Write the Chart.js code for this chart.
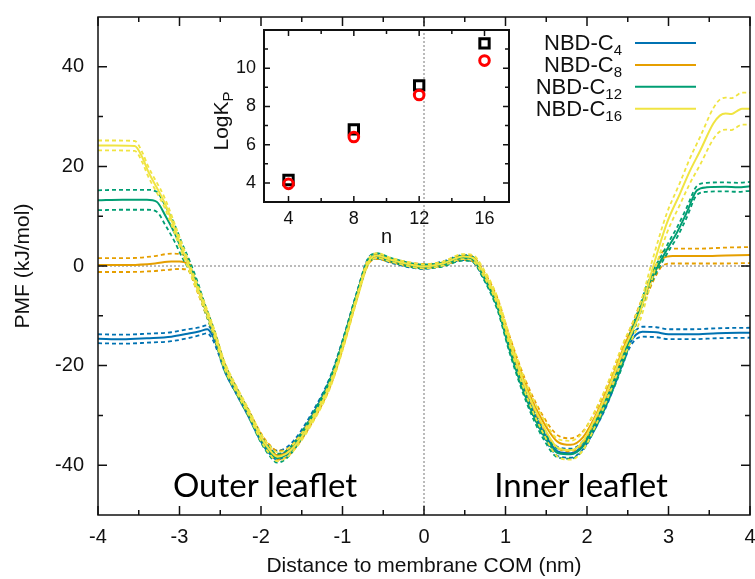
<!DOCTYPE html>
<html>
<head>
<meta charset="utf-8">
<script src="https://cdn.jsdelivr.net/npm/chart.js@4.4.1/dist/chart.umd.min.js"></script>
<style>
  html, body { margin: 0; padding: 0; background: #fff; }
  #wrap { position: relative; width: 755px; height: 579px; }
  #pmfChart { position: absolute; left: 0; top: 0; }
  #logkChart { position: absolute; left: 190px; top: 20px; }
</style>
</head>
<body>
<div id="wrap">
  <canvas id="pmfChart" width="755" height="579"></canvas>
  <canvas id="logkChart" width="330" height="230"></canvas>
</div>
<script>
// ---------------- Daten ----------------
const chainLengths = [4, 8, 12, 16];
const seriesColors = ['#0072b2', '#e69f00', '#009e73', '#f0e442'];

const xTicks = [-4, -3, -2, -1, 0, 1, 2, 3, 4];
const xMinorTicks = [-3.5, -2.5, -1.5, -0.5, 0.5, 1.5, 2.5, 3.5];
const yTicks = [-40, -20, 0, 20, 40];
const yMinorTicks = [-30, -10, 10, 30];

// positions inside the bilayer, shared by all four profiles (nm)
const coreX = [-2.45, -2.3, -2.15, -2.0, -1.9, -1.8, -1.7, -1.6, -1.4, -1.15, -1.0, -0.82, -0.69, -0.58, -0.42,
  -0.17, 0, 0.23, 0.48, 0.6, 0.72, 0.9, 1.05, 1.26, 1.46, 1.65, 1.8, 1.95, 2.1, 2.24, 2.45];
const coreErr = [0.7, 0.6, 0.6, 0.7, 0.8, 0.9, 0.8, 0.7, 0.6, 0.6, 0.6, 0.5, 0.5, 0.5, 0.4,
  0.4, 0.4, 0.4, 0.5, 0.5, 0.5, 0.6, 0.6, 0.7, 0.8, 0.9, 0.9, 0.8, 0.7, 0.7, 0.8];

// NBD-C4
const c4X = [-4, -3.7, -3.4, -3.1, -2.9, -2.75, -2.66, -2.6, -2.52, ...coreX, 2.53, 2.6, 2.68, 2.85, 3.0, 3.3, 3.6, 4.0];
const c4Y = [-14.6, -14.7, -14.5, -14.2, -13.6, -13.1, -12.7, -13.8, -17.0,
  -20.3, -25.2, -29.8, -34.6, -36.8, -38.0, -37.4, -35.8, -30.8, -22.8, -15.6, -5.6, 0.9, 2.0, 1.1,
  0.1, -0.2, 0.5, 1.7, 1.3, -1.6, -7.8, -16.2, -26.2, -33.2, -37.3, -37.6, -36.0, -32.0, -27.4, -18.4,
  -15.4, -13.8, -13.2, -13.3, -13.7, -13.7, -13.5, -13.4];
const c4Err = [0.9, 0.9, 0.9, 0.9, 0.9, 0.8, 0.8, 0.8, 0.7, ...coreErr, 0.8, 0.9, 1.0, 1.0, 1.0, 1.0, 1.0, 1.0];

// NBD-C8
const c8X = [-4, -3.6, -3.3, -3.1, -3.0, -2.9, -2.8, -2.69, -2.57, ...coreX, 2.55, 2.65, 2.75, 2.86, 2.93, 3.05, 3.4, 3.7, 4.0];
const c8Y = [0.2, 0.2, 0.5, 0.9, 0.9, 0.4, -3.6, -8.4, -13.8,
  -20.0, -25.0, -29.6, -34.3, -36.6, -38.0, -37.7, -36.3, -31.6, -23.6, -16.2, -6.0, 0.6, 1.9, 1.2,
  0.3, 0.0, 0.4, 1.7, 1.4, -1.2, -7.0, -14.8, -24.4, -31.2, -35.4, -35.9, -34.4, -30.2, -25.2, -16.4,
  -12.6, -8.4, -4.4, -0.4, 1.5, 2.0, 2.0, 2.1, 2.2];
const c8Err = [1.4, 1.4, 1.5, 1.6, 1.5, 1.2, 0.8, 0.7, 0.7,
  0.7, 0.6, 0.6, 0.7, 0.8, 0.9, 0.8, 0.7, 0.6, 0.6, 0.6, 0.5, 0.5, 0.5, 0.4,
  0.4, 0.4, 0.4, 0.5, 0.5, 0.5, 0.6, 0.7, 0.9, 1.1, 1.3, 1.3, 1.2, 1.0, 0.9, 0.9,
  0.8, 0.8, 0.9, 1.1, 1.4, 1.5, 1.5, 1.6, 1.6];

// NBD-C12
const c12X = [-4, -3.7, -3.4, -3.28, -3.17, -3.06, -2.97, -2.87, -2.78, -2.69, -2.57, ...coreX,
  2.56, 2.65, 2.73, 2.83, 2.93, 3.02, 3.1, 3.22, 3.35, 3.47, 3.7, 3.85, 4.0];
const c12Y = [13.2, 13.3, 13.3, 12.9, 10.0, 6.6, 3.2, -0.2, -3.9, -8.3, -13.8,
  -20.2, -25.1, -29.8, -34.8, -37.2, -38.6, -38.0, -36.3, -31.2, -23.0, -15.6, -5.6, 0.8, 2.1, 1.3,
  0.2, -0.1, 0.3, 1.6, 1.3, -1.8, -8.2, -16.8, -26.8, -33.8, -37.6, -37.8, -36.2, -32.0, -27.2, -18.6,
  -12.8, -8.8, -4.8, -1.2, 1.8, 4.4, 6.6, 10.6, 15.2, 15.8, 15.9, 15.8, 16.0];
const c12Err = [2.0, 2.0, 2.0, 2.0, 1.9, 1.7, 1.4, 1.0, 0.8, 0.7, 0.7, ...coreErr,
  0.8, 0.8, 0.8, 0.8, 0.8, 0.9, 1.0, 1.0, 0.9, 0.9, 0.9, 0.9, 0.9];

// NBD-C16
const c16X = [-4, -3.8, -3.55, -3.45, -3.39, -3.18, -3.0, -2.9, -2.69, -2.57, ...coreX,
  2.55, 2.65, 2.81, 2.98, 3.14, 3.26, 3.39, 3.55, 3.63, 3.7, 3.77, 3.83, 3.9, 4.0];
const c16Y = [24.2, 24.2, 24.1, 21.6, 19.2, 12.6, 4.9, 0.6, -8.2, -13.6,
  -19.8, -24.8, -29.4, -34.4, -36.8, -38.3, -37.8, -36.4, -31.8, -23.8, -16.4, -6.2, 0.6, 2.1, 1.3,
  0.3, -0.1, 0.5, 1.9, 1.6, -1.0, -7.0, -15.0, -25.0, -32.0, -36.6, -37.0, -35.2, -30.6, -25.6, -16.8,
  -13.3, -9.4, -0.2, 8.6, 14.5, 19.0, 23.2, 28.6, 30.2, 30.6, 30.5, 31.0, 31.6, 31.6];
const c16Err = [1.0, 1.0, 1.0, 1.0, 1.0, 1.0, 0.9, 0.8, 0.7, 0.7,
  0.7, 0.6, 0.6, 0.7, 0.8, 0.9, 0.8, 0.7, 0.6, 0.6, 0.6, 0.5, 0.5, 0.5, 0.4,
  0.4, 0.4, 0.4, 0.5, 0.6, 0.7, 0.8, 1.0, 1.2, 1.5, 1.8, 1.9, 1.8, 1.6, 1.5, 1.5,
  1.5, 1.6, 1.8, 2.0, 2.2, 2.5, 2.8, 3.1, 3.2, 3.2, 3.2, 3.2, 3.2, 3.2];

// Inset: log K_P vs. chain length
const logKpSquare = [4.15, 6.8, 9.1, 11.3];
const logKpCircle = [3.95, 6.4, 8.6, 10.4];
const nTicks = [4, 8, 12, 16];
const nMinorTicks = [6, 10, 14];
const logKTicks = [4, 6, 8, 10];
const logKMinorTicks = [5, 7, 9, 11];

const FONT = '"Liberation Sans", Arial, sans-serif';
Chart.defaults.font.family = FONT;
Chart.defaults.color = '#111';

// ---------------- Hilfsfunktionen ----------------
const profiles = [[c4X, c4Y, c4Err], [c8X, c8Y, c8Err], [c12X, c12Y, c12Err], [c16X, c16Y, c16Err]];

function points(xs, ys, es, sign) {
  return xs.map((x, i) => ({ x, y: ys[i] + sign * es[i] }));
}

function tickMarks(chart, axis, values, len) {
  const { ctx, chartArea: a } = chart;
  const s = chart.scales[axis];
  ctx.beginPath();
  values.forEach(v => {
    const p = s.getPixelForValue(v);
    if (axis === 'x') {
      ctx.moveTo(p, a.bottom); ctx.lineTo(p, a.bottom - len);
      ctx.moveTo(p, a.top); ctx.lineTo(p, a.top + len);
    } else {
      ctx.moveTo(a.left, p); ctx.lineTo(a.left + len, p);
      ctx.moveTo(a.right, p); ctx.lineTo(a.right - len, p);
    }
  });
  ctx.stroke();
}

function fixedTicks(values) {
  return s => { s.ticks = values.map(v => ({ value: v })); };
}

// fixed axis band, no extra room for overhanging labels
function fitWidth(w) {
  return s => { s.width = w; s.paddingTop = 0; s.paddingBottom = 0; };
}
function fitHeight(h) {
  return s => { s.height = h; s.paddingLeft = 0; s.paddingRight = 0; };
}

// ---------------- PMF-Profile ----------------
const pmfDatasets = [];
profiles.forEach(([xs, ys, es], i) => {
  const base = {
    borderColor: seriesColors[i],
    pointRadius: 0,
    cubicInterpolationMode: 'monotone',
    fill: false
  };
  const rank = (3 - i) * 3;
  pmfDatasets.push({ ...base, label: 'NBD-C' + chainLengths[i], data: points(xs, ys, es, 0), borderWidth: 2, order: rank });
  pmfDatasets.push({ ...base, label: '', data: points(xs, ys, es, 1), borderWidth: 1.8, borderDash: [4, 3], order: rank + 1 });
  pmfDatasets.push({ ...base, label: '', data: points(xs, ys, es, -1), borderWidth: 1.8, borderDash: [4, 3], order: rank + 2 });
});

const pmfDecor = {
  id: 'pmfDecor',
  beforeDatasetsDraw(chart) {
    const { ctx, chartArea: a, scales } = chart;
    const x0 = scales.x.getPixelForValue(0);
    const y0 = scales.y.getPixelForValue(0);
    ctx.save();
    ctx.strokeStyle = '#777';
    ctx.lineWidth = 1;
    ctx.setLineDash([2, 2]);
    ctx.beginPath();
    ctx.moveTo(a.left, y0); ctx.lineTo(a.right, y0);
    ctx.moveTo(x0, a.top); ctx.lineTo(x0, a.bottom);
    ctx.stroke();
    ctx.restore();
  },
  afterDatasetsDraw(chart) {
    const { ctx, chartArea: a } = chart;
    ctx.save();
    ctx.strokeStyle = '#111';
    ctx.lineWidth = 1.5;
    ctx.strokeRect(a.left, a.top, a.right - a.left, a.bottom - a.top);
    tickMarks(chart, 'x', xTicks, 9);
    tickMarks(chart, 'x', xMinorTicks, 5);
    tickMarks(chart, 'y', yTicks, 9);
    tickMarks(chart, 'y', yMinorTicks, 5);

    // legend with subscripts
    chainLengths.forEach((n, i) => {
      const y = 43 + i * 21.9;
      const sub = String(n);
      ctx.font = '22px ' + FONT;
      const mw = ctx.measureText('NBD-C').width;
      ctx.font = '15px ' + FONT;
      const sw = ctx.measureText(sub).width;
      const left = 622 - mw - sw;
      ctx.fillStyle = '#111';
      ctx.textAlign = 'left';
      ctx.textBaseline = 'alphabetic';
      ctx.font = '22px ' + FONT;
      ctx.fillText('NBD-C', left, y + 7);
      ctx.font = '15px ' + FONT;
      ctx.fillText(sub, left + mw, y + 12);
      ctx.strokeStyle = seriesColors[i];
      ctx.lineWidth = 2;
      ctx.beginPath();
      ctx.moveTo(635, y); ctx.lineTo(696, y);
      ctx.stroke();
    });

    // leaflet labels
    ctx.font = '33px Lato, "Open Sans", sans-serif';
    ctx.fillStyle = '#000';
    ctx.textAlign = 'center';
    ctx.fillText('Outer leaflet', 265, 497);
    ctx.fillText('Inner leaflet', 581, 497);
    ctx.restore();
  }
};

new Chart(document.getElementById('pmfChart'), {
  type: 'line',
  data: { datasets: pmfDatasets },
  options: {
    responsive: false,
    animation: false,
    layout: { padding: { left: 0, right: 5, top: 17, bottom: 0 } },
    plugins: { legend: { display: false }, tooltip: { enabled: false } },
    scales: {
      x: {
        type: 'linear', min: -4, max: 4,
        afterBuildTicks: fixedTicks(xTicks),
        afterFit: fitHeight(64),
        grid: { display: false, drawTicks: false },
        border: { display: false },
        ticks: { padding: 10, font: { size: 20 }, callback: v => String(v) },
        title: { display: true, text: 'Distance to membrane COM (nm)', font: { size: 21 }, padding: { top: 0, bottom: 0 } }
      },
      y: {
        type: 'linear', min: -50, max: 50,
        afterBuildTicks: fixedTicks(yTicks),
        afterFit: fitWidth(98),
        grid: { display: false, drawTicks: false },
        border: { display: false },
        ticks: { padding: 14, font: { size: 20 }, callback: v => String(v) },
        title: { display: true, text: 'PMF (kJ/mol)', font: { size: 21 }, padding: { top: 11, bottom: 0 } }
      }
    }
  },
  plugins: [pmfDecor]
});

// ---------------- Inset: LogKp ----------------
const logkDecor = {
  id: 'logkDecor',
  afterDatasetsDraw(chart) {
    const { ctx, chartArea: a } = chart;
    ctx.save();
    ctx.strokeStyle = '#111';
    ctx.lineWidth = 2;
    ctx.strokeRect(a.left, a.top, a.right - a.left, a.bottom - a.top);
    ctx.lineWidth = 1.5;
    tickMarks(chart, 'x', nTicks, 6);
    tickMarks(chart, 'x', nMinorTicks, 4);
    tickMarks(chart, 'y', logKTicks, 6);
    tickMarks(chart, 'y', logKMinorTicks, 4);

    // rotated axis title LogK_P
    ctx.translate(31, 101);
    ctx.rotate(-Math.PI / 2);
    ctx.font = '21px ' + FONT;
    const mw = ctx.measureText('LogK').width;
    ctx.font = '15px ' + FONT;
    const sw = ctx.measureText('P').width;
    const left = -(mw + sw) / 2;
    ctx.fillStyle = '#111';
    ctx.textAlign = 'left';
    ctx.textBaseline = 'alphabetic';
    ctx.font = '21px ' + FONT;
    ctx.fillText('LogK', left, 7);
    ctx.font = '15px ' + FONT;
    ctx.fillText('P', left + mw, 12);
    ctx.restore();
  }
};

new Chart(document.getElementById('logkChart'), {
  type: 'scatter',
  data: {
    datasets: [
      {
        label: 'circle',
        data: chainLengths.map((n, i) => ({ x: n, y: logKpCircle[i] })),
        pointStyle: 'circle', pointRadius: 4.8, borderWidth: 3,
        borderColor: '#ff0000', backgroundColor: 'rgba(0,0,0,0)'
      },
      {
        label: 'square',
        data: chainLengths.map((n, i) => ({ x: n, y: logKpSquare[i] })),
        pointStyle: 'rect', pointRadius: 6.6, borderWidth: 3,
        borderColor: '#000', backgroundColor: 'rgba(0,0,0,0)'
      }
    ]
  },
  options: {
    responsive: false,
    animation: false,
    layout: { padding: { left: 0, right: 11, top: 10, bottom: 0 } },
    plugins: { legend: { display: false }, tooltip: { enabled: false } },
    scales: {
      x: {
        type: 'linear', min: 2.5, max: 17.5,
        afterBuildTicks: fixedTicks(nTicks),
        afterFit: fitHeight(48),
        grid: { display: false, drawTicks: false },
        border: { display: false },
        ticks: { padding: 6, font: { size: 18 }, callback: v => String(v) },
        title: { display: true, text: 'n', font: { size: 20 }, padding: { top: 0, bottom: 1 } }
      },
      y: {
        type: 'linear', min: 3, max: 12,
        afterBuildTicks: fixedTicks(logKTicks),
        afterFit: fitWidth(74),
        grid: { display: false, drawTicks: false },
        border: { display: false },
        ticks: { padding: 8, font: { size: 18 }, callback: v => String(v) }
      }
    }
  },
  plugins: [logkDecor]
});
</script>
</body>
</html>
